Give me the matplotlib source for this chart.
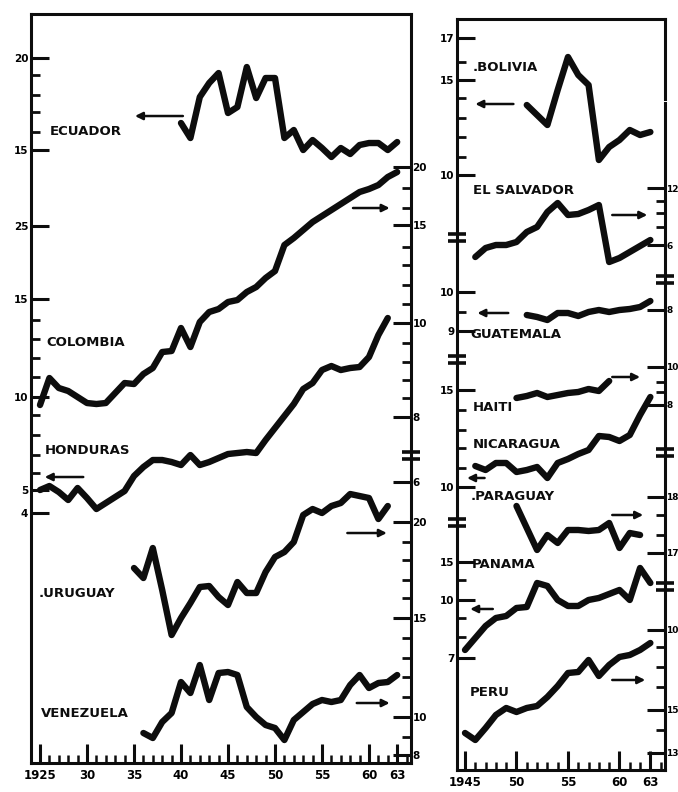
import matplotlib.pyplot as plt
from matplotlib.transforms import blended_transform_factory

# Vertical values are heights on each panel's stacked scale (0 = year axis)

# ---- left panel, 1925-1963 ----
ecuador_years = list(range(1940, 1964))
ecuador = [640, 625, 666, 680, 690, 650, 656, 696, 665, 685, 685, 625,
           633, 613, 623, 615, 606, 615, 609, 618, 620, 620, 613, 621]

colombia_years = list(range(1925, 1964))
colombia = [358, 385, 375, 372, 366, 360, 359, 360, 370, 380, 379, 389, 395,
            411, 412, 435, 416, 441, 451, 454, 461, 463, 471, 476, 485, 492,
            518, 525, 533, 541, 547, 553, 559, 565, 571, 574, 578, 586, 591]

honduras_years = list(range(1925, 1963))
honduras = [273, 277, 271, 263, 275, 265, 254, 260, 266, 272, 287, 296, 303,
            303, 301, 298, 308, 298, 301, 305, 309, 310, 311, 310, 323, 335,
            347, 359, 374, 380, 393, 397, 393, 395, 396, 406, 428, 445]

uruguay_years = list(range(1935, 1963))
uruguay = [195, 185, 215, 173, 128, 145, 160, 176, 177, 166, 158, 181, 170,
           170, 191, 206, 211, 221, 248, 254, 250, 257, 260, 269, 267, 265,
           244, 257]

venezuela_years = list(range(1936, 1964))
venezuela = [30, 25, 41, 50, 81, 70, 98, 63, 90, 91, 88, 56, 46, 38, 35, 23,
             43, 51, 59, 63, 61, 63, 78, 88, 75, 80, 81, 88]

# ---- right panel, 1945-1963 ----
bolivia_years = list(range(1951, 1964))
bolivia = [665, 655, 645, 680, 713, 695, 685, 610, 623, 630, 640, 635, 638]

salvador_years = list(range(1946, 1964))
salvador = [513, 522, 525, 525, 528, 538, 543, 558, 567, 555, 556, 560, 565,
            508, 512, 518, 524, 530]

guatemala_years = list(range(1951, 1964))
guatemala = [455, 453, 450, 457, 457, 454, 458, 460, 458, 460, 461, 463, 469]

haiti_years = list(range(1950, 1960))
haiti = [372, 374, 377, 373, 375, 377, 378, 381, 379, 389]

nicaragua_years = list(range(1946, 1964))
nicaragua = [304, 300, 307, 307, 298, 300, 303, 292, 307, 311, 316, 320, 334,
             333, 329, 335, 355, 373]

paraguay_years = list(range(1950, 1963))
paraguay = [264, 242, 220, 235, 227, 240, 240, 239, 240, 247, 222, 237, 235]

panama_years = list(range(1945, 1964))
panama = [120, 132, 144, 152, 154, 162, 163, 187, 184, 170, 164, 164, 170,
          172, 176, 180, 170, 202, 187]

peru_years = list(range(1945, 1964))
peru = [37, 30, 42, 55, 62, 58, 62, 64, 73, 84, 97, 98, 110, 94, 105, 113,
        115, 120, 127]

# country name, label anchor (year, height), arrow (tail year, head year, height)
left_series = [
    ("ECUADOR", ecuador_years, ecuador, (1926.0, 632), (1940.2, 1935.1, 647)),
    ("COLOMBIA", colombia_years, colombia, (1925.7, 421), (1958.3, 1962.2, 555)),
    ("HONDURAS", honduras_years, honduras, (1925.5, 313), (1929.6, 1925.5, 286)),
    (".URUGUAY", uruguay_years, uruguay, (1924.8, 170), (1957.7, 1961.9, 230)),
    ("VENEZUELA", venezuela_years, venezuela, (1925.1, 50), (1958.7, 1962.2, 60)),
]
right_series = [
    (".BOLIVIA", bolivia_years, bolivia, (1945.7, 703), (1949.7, 1946.0, 666)),
    ("EL SALVADOR", salvador_years, salvador, (1945.8, 580), (1959.3, 1962.7, 555)),
    ("GUATEMALA", guatemala_years, guatemala, (1945.5, 435), (1949.2, 1946.2, 457)),
    ("HAITI", haiti_years, haiti, (1945.8, 362), (1959.3, 1962.0, 393)),
    ("NICARAGUA", nicaragua_years, nicaragua, (1945.8, 325), (1946.9, 1945.2, 292)),
    (".PARAGUAY", paraguay_years, paraguay, (1945.5, 273), (1959.3, 1962.3, 255)),
    ("PANAMA", panama_years, panama, (1945.7, 205), (1947.7, 1945.5, 161)),
    ("PERU", peru_years, peru, (1945.5, 77), (1959.3, 1962.5, 90)),
]

# scale ticks along each vertical edge: (major heights, labels, minor heights, breaks)
left_in = ([705, 613, 537, 464, 366, 273, 250],
           ["20", "15", "25", "15", "10", "5", "4"],
           [688, 668, 651, 631, 443, 424, 405, 386, 348, 328, 308, 290], [])
left_out = ([596, 538, 440, 346, 281, 241, 145, 46, 8],
            ["20", "15", "10", "8", "6", "20", "15", "10", "8"],
            [575, 555, 516, 498, 478, 459, 420, 401, 383, 365, 221, 203, 183,
             165, 125, 105, 86, 66, 26], [308])
right_in = ([732, 690, 595, 478, 439, 380, 283, 208, 170, 112],
            ["17", "15", "10", "10", "9", "15", "10", "15", "10", "7"],
            [708, 672, 652, 633, 613, 458, 360, 340, 322, 302, 190, 152, 133],
            [533, 410, 247])
right_out = ([582, 525, 460, 403, 365, 273, 217, 140, 60, 17],
             ["12", "6", "8", "10", "8", "18", "17", "10", "15", "13"],
             [569, 557, 543, 388, 378, 255, 235, 123, 103, 83, 40],
             [490, 317, 183])

left_years = [1925, 1930, 1935, 1940, 1945, 1950, 1955, 1960, 1963]
left_year_labels = ["1925", "30", "35", "40", "45", "50", "55", "60", "63"]
right_years = [1945, 1950, 1955, 1960, 1963]
right_year_labels = ["1945", "50", "55", "60", "63"]

INK = "#0d0d0d"
NARROW = ["Liberation Sans Narrow", "DejaVu Sans"]
plt.rcParams["font.family"] = ["DejaVu Sans"]
plt.rcParams["font.weight"] = "bold"

fig = plt.figure(figsize=(6.78, 7.92), dpi=100)
fig.patch.set_facecolor("white")

ax_l = fig.add_axes([0.0457, 0.0366, 0.5605, 0.9457])
ax_r = fig.add_axes([0.674, 0.0278, 0.3068, 0.9482])


def draw_breaks(ax, xpos, heights):
    trans = blended_transform_factory(ax.transAxes, ax.transData)
    for h in heights:
        for dh in (-3.5, 3.5):
            ax.plot([xpos], [h + dh], marker="_", markersize=13,
                    markeredgewidth=2.6, color=INK, transform=trans,
                    clip_on=False, zorder=5)


def style_panel(ax, xlim, ylim, years, year_labels, inner, outer,
                outer_size=7.5):
    ax.set_xlim(*xlim)
    ax.set_ylim(*ylim)
    for sp in ax.spines.values():
        sp.set_linewidth(2.2)
        sp.set_color(INK)

    # year axis: tall tick every 5 years, short tick every year
    ax.set_xticks(years)
    ax.set_xticklabels(year_labels, fontsize=8.5, fontweight="bold")
    ax.set_xticks(range(int(xlim[0]) + 1, int(xlim[1]) + 1), minor=True)
    ax.tick_params(axis="x", which="major", direction="in", length=14,
                   width=2.2, color=INK, pad=4, top=False)
    ax.tick_params(axis="x", which="minor", direction="in", length=6,
                   width=1.8, color=INK, top=False)

    # scale along the left edge
    majors, labels, minors, breaks = inner
    ax.set_yticks(majors)
    ax.set_yticklabels(labels, fontsize=7.5, fontweight="bold")
    ax.set_yticks(minors, minor=True)
    ax.tick_params(axis="y", which="major", direction="in", length=13,
                   width=2.2, color=INK, pad=2, right=False)
    ax.tick_params(axis="y", which="minor", direction="in", length=6.5,
                   width=2.0, color=INK, right=False)
    draw_breaks(ax, 0.0, breaks)

    # second scale along the right edge
    tw = ax.twinx()
    tw.set_ylim(*ylim)
    majors, labels, minors, breaks = outer
    tw.set_yticks(majors)
    tw.set_yticklabels(labels, fontsize=outer_size, fontweight="bold",
                       family=NARROW)
    tw.set_yticks(minors, minor=True)
    tw.tick_params(axis="y", which="major", direction="in", length=13,
                   width=2.2, color=INK, pad=1)
    tw.tick_params(axis="y", which="minor", direction="in", length=6.5,
                   width=2.0, color=INK)
    for sp in tw.spines.values():
        sp.set_visible(False)
    draw_breaks(ax, 1.0, breaks)
    return tw


def draw_countries(ax, series):
    for name, years, vals, (lx, ly), (ax0, ax1, ah) in series:
        ax.plot(years, vals, color=INK, lw=4.6, solid_joinstyle="round",
                solid_capstyle="round", zorder=3)
        ax.text(lx, ly, name, fontsize=9.5, fontweight="bold", color=INK,
                ha="left", va="center")
        ax.annotate("", xy=(ax1, ah), xytext=(ax0, ah),
                    arrowprops=dict(arrowstyle="-|>", lw=1.8, color=INK,
                                    mutation_scale=11, shrinkA=0, shrinkB=0))


style_panel(ax_l, (1924.04, 1964.47), (0, 749), left_years, left_year_labels,
            left_in, left_out)
style_panel(ax_r, (1944.22, 1964.42), (0, 751), right_years, right_year_labels,
            right_in, right_out, outer_size=6.5)

# small gap in the right frame of the second panel
ax_r.spines["right"].set_visible(False)
ax_r.axvline(1964.42, ymin=0, ymax=0.888, color=INK, lw=2.2, clip_on=False)
ax_r.axvline(1964.42, ymin=0.894, ymax=1, color=INK, lw=2.2, clip_on=False)

draw_countries(ax_l, left_series)
draw_countries(ax_r, right_series)

fig.savefig("out.png", dpi=100)
